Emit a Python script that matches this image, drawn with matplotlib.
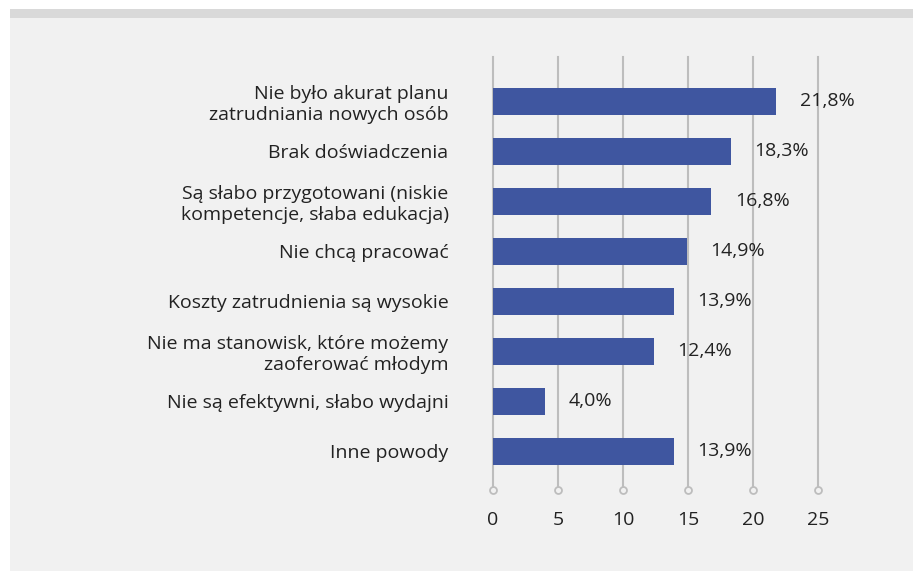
import matplotlib.pyplot as plt
from matplotlib.patches import Rectangle

categories = [
    "Nie było akurat planu\nzatrudniania nowych osób",
    "Brak doświadczenia",
    "Są słabo przygotowani (niskie\nkompetencje, słaba edukacja)",
    "Nie chcą pracować",
    "Koszty zatrudnienia są wysokie",
    "Nie ma stanowisk, które możemy\nzaoferować młodym",
    "Nie są efektywni, słabo wydajni",
    "Inne powody",
]
values = [21.8, 18.3, 16.8, 14.9, 13.9, 12.4, 4.0, 13.9]
value_labels = ["21,8%", "18,3%", "16,8%", "14,9%", "13,9%", "12,4%", "4,0%", "13,9%"]
xticks = [0, 5, 10, 15, 20, 25]

bg = "#f1f1f1"
bar_color = "#3f56a0"
grid_color = "#bdbdbd"
text_color = "#222222"

plt.rcParams['font.family'] = ['Open Sans', 'DejaVu Sans']

W, H = 913, 571
fig = plt.figure(figsize=(W / 100, H / 100), dpi=100)
fig.patch.set_facecolor("white")

# gray panel and top band
fig.patches.append(Rectangle((10 / W, 0), 1 - 10 / W, 1 - 18 / H, transform=fig.transFigure,
                             facecolor=bg, edgecolor="none", zorder=-2))
fig.patches.append(Rectangle((10 / W, 1 - 18 / H), 1 - 10 / W, 9 / H, transform=fig.transFigure,
                             facecolor="#d9d9d9", edgecolor="none", zorder=-2))

left, right = 493 / W, 818 / W
top, bottom = 1 - 57 / H, 1 - 490 / H
ax = fig.add_axes([left, bottom, right - left, top - bottom])
ax.set_facecolor("none")

pos = list(range(len(values)))
ax.barh(pos, values, height=0.54, color=bar_color, zorder=3)

for p, v, lab in zip(pos, values, value_labels):
    ax.text(v + 1.8, p, lab, va="center", ha="left", fontsize=14, color=text_color,
            clip_on=False)

ax.set_xlim(0, 25)
ax.set_ylim(7.78, -0.88)

for t in xticks:
    ax.axvline(t, color=grid_color, lw=1.5, zorder=1, clip_on=False)
    ax.plot([t], [7.78], marker="o", markersize=5, markerfacecolor=bg,
            markeredgecolor=grid_color, markeredgewidth=1.3, clip_on=False, zorder=4)

ax.set_xticks(xticks)
ax.set_xticklabels([str(t) for t in xticks], fontsize=14, color=text_color)
ax.tick_params(axis="x", length=0, pad=15)
ax.set_yticks(pos)
ax.set_yticklabels(categories, fontsize=14, color=text_color, ha="right",
                   linespacing=1.22)
ax.tick_params(axis="y", length=0, pad=32)

for s in ax.spines.values():
    s.set_visible(False)

fig.savefig("out.png", dpi=100, facecolor=fig.get_facecolor())
